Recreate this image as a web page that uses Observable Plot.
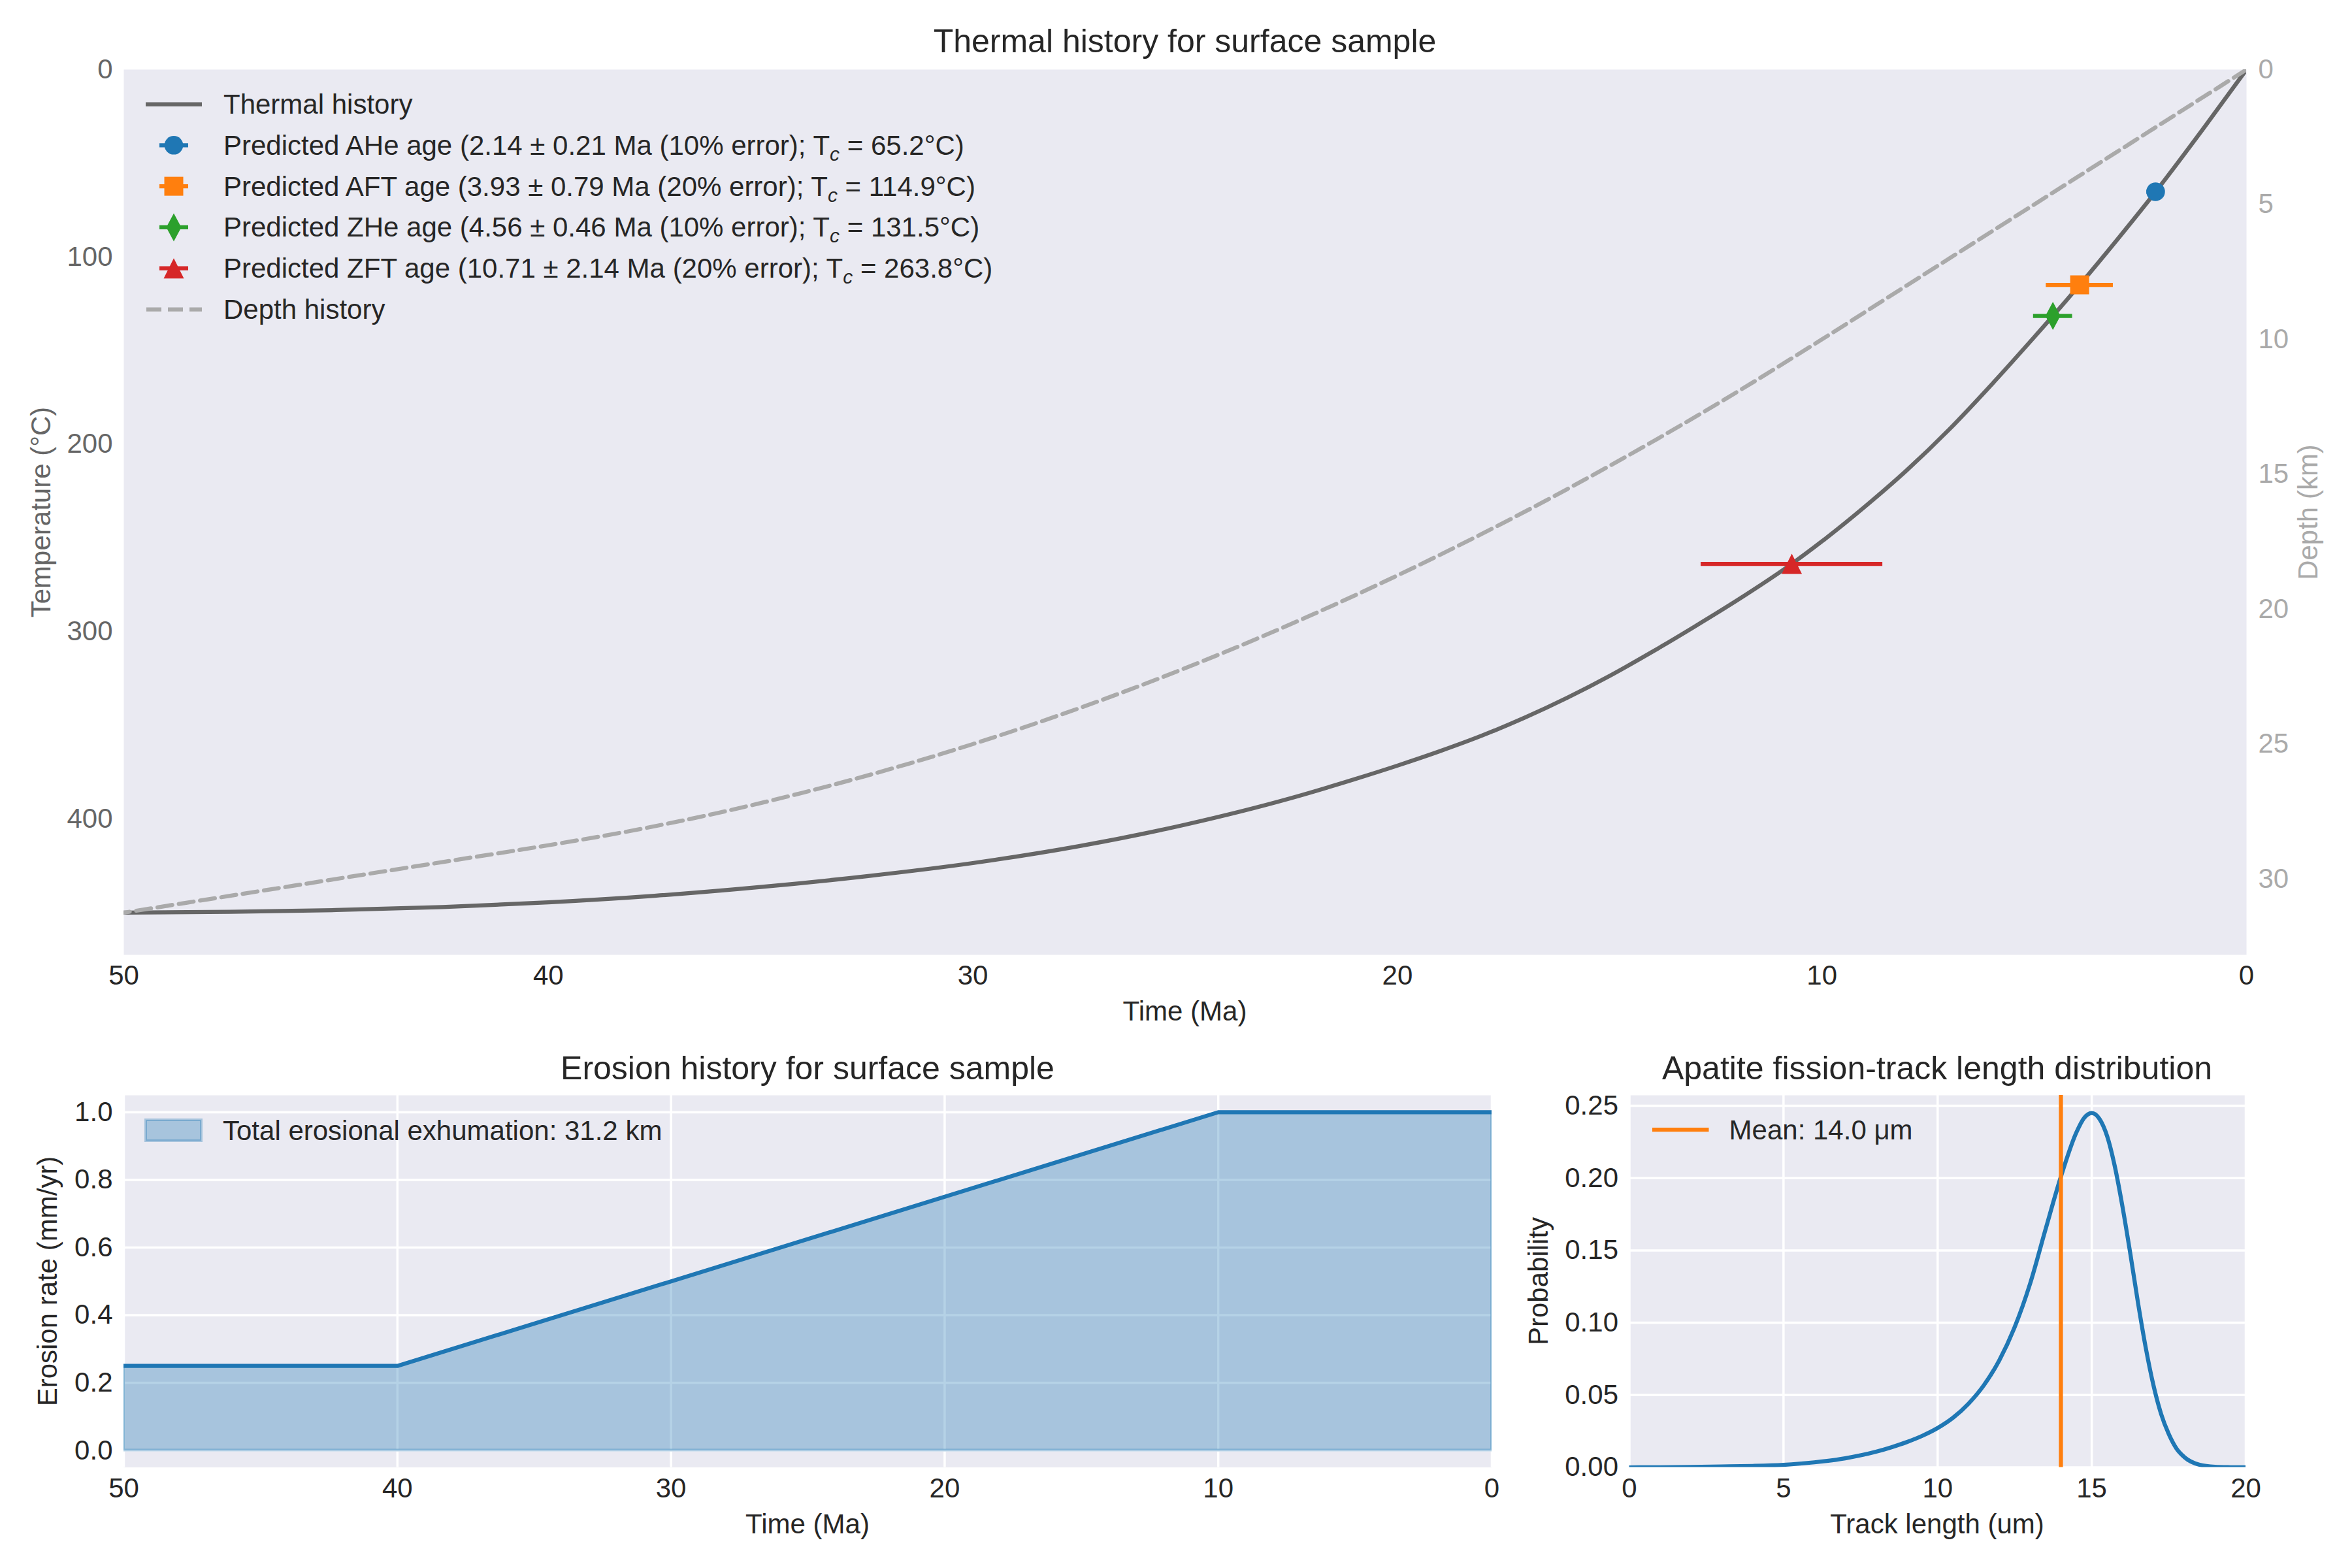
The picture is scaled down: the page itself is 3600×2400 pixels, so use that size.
<!DOCTYPE html>
<html>
<head>
<meta charset="utf-8">
<script src="https://cdn.jsdelivr.net/npm/d3@7"></script>
<script src="https://cdn.jsdelivr.net/npm/@observablehq/plot@0.6"></script>
<style>
html, body { margin: 0; padding: 0; background: #fff; }
#fig { position: relative; width: 3600px; height: 2400px; overflow: hidden; background: #fff; }
#fig > svg { position: absolute; left: 0; top: 0; }
</style>
</head>
<body>
<div id="fig"></div>
<script>
// ---------------- DATA ----------------
const thermalTime = [0, 1, 2.14, 3, 3.93, 4.56, 5, 6, 7, 8, 9, 10, 10.71, 12, 13, 14, 15, 16, 17, 18, 19, 20, 21, 22.5, 25, 27.5, 30, 32.5, 35, 37.5, 40, 42.5, 45, 47.5, 50];
const thermalTemp = [0, 31, 65.2, 89.5, 114.9, 131.5, 142.8, 168, 192, 213.8, 233.5, 251.8, 263.8, 283.3, 297.3, 310.8, 323.6, 335.3, 345.9, 355.4, 363.8, 371.5, 378.7, 388.8, 403, 414.5, 423.5, 430.5, 436.3, 441, 444.5, 447, 448.6, 449.5, 450];

const depthTime = [0, 2, 4, 6, 8, 10, 12, 14, 16, 18, 20, 22, 24, 26, 28, 30, 32, 34, 36, 38, 40, 42, 44, 46, 48, 50];
const depthKm   = [0, 2, 4, 6, 8, 10, 11.95, 13.8, 15.55, 17.2, 18.75, 20.2, 21.55, 22.8, 23.95, 25, 25.95, 26.8, 27.55, 28.2, 28.75, 29.25, 29.75, 30.25, 30.75, 31.25];

const ageSystems   = ["AHe", "AFT", "ZHe", "ZFT"];
const ageValues    = [2.14, 3.93, 4.56, 10.71];
const ageErrors    = [0.21, 0.79, 0.46, 2.14];
const ageErrorPct  = [10, 20, 10, 20];
const closureTemps = [65.2, 114.9, 131.5, 263.8];

const erosionTime = [50, 40, 10, 0];
const erosionRate = [0.25, 0.25, 1.0, 1.0];
const totalExhumation = 31.2;

const trackLength = [0, 1, 2, 3, 4, 5, 6, 7, 8, 8.5, 9, 9.5, 10, 10.5, 11, 11.5, 12, 12.5, 13, 13.5, 14, 14.5, 14.75, 15, 15.25, 15.5, 15.75, 16, 16.25, 16.5, 16.75, 17, 17.25, 17.5, 17.75, 18, 18.5, 19, 19.5, 20];
const trackProb   = [0, 0.0001, 0.0003, 0.0006, 0.001, 0.0018, 0.0035, 0.0063, 0.0108, 0.0139, 0.0175, 0.0218, 0.0272, 0.0343, 0.044, 0.0568, 0.074, 0.097, 0.127, 0.1645, 0.201, 0.2315, 0.2415, 0.245, 0.241, 0.229, 0.208, 0.180, 0.148, 0.114, 0.083, 0.057, 0.037, 0.023, 0.013, 0.0072, 0.0018, 0.0004, 0.0001, 0];
const meanTrackLength = 14.0;

const timeTicks   = [50, 40, 30, 20, 10, 0];
const tempTicks   = [0, 100, 200, 300, 400];
const depthTicks  = [0, 5, 10, 15, 20, 25, 30];
const rateTicks   = [0, 0.2, 0.4, 0.6, 0.8, 1.0];
const lengthTicks = [0, 5, 10, 15, 20];
const probTicks   = [0, 0.05, 0.10, 0.15, 0.20, 0.25];

// ---------------- STYLE ----------------
const FONT = '"Liberation Sans", Arial, Helvetica, sans-serif';
const ageColors = ["#1f77b4", "#ff7f0e", "#2ca02c", "#d62728"];
const TXT = "#262626";
const BG = "#EAEAF2";
const LW = 6.25;

const symCircle = {draw(c) { c.moveTo(14.3, 0); c.arc(0, 0, 14.3, 0, 2 * Math.PI); c.closePath(); }};
const symSquare = {draw(c) { c.rect(-14.5, -14.5, 29, 29); }};
const symThinDiamond = {draw(c) { c.moveTo(0, -21.5); c.lineTo(11.5, 0); c.lineTo(0, 21.5); c.lineTo(-11.5, 0); c.closePath(); }};
const symTriangle = {draw(c) { c.moveTo(0, -15.5); c.lineTo(15.5, 15.5); c.lineTo(-15.5, 15.5); c.closePath(); }};
const ageSymbols = [symCircle, symSquare, symThinDiamond, symTriangle];

// ---------------- TABLES ----------------
const thermal = thermalTime.map((t, i) => ({t, T: thermalTemp[i]}));
const depth = depthTime.map((t, i) => ({t, d: depthKm[i]}));
const ages = ageSystems.map((name, i) => ({name, age: ageValues[i], err: ageErrors[i], pct: ageErrorPct[i], tc: closureTemps[i]}));
const erosion = erosionTime.map((t, i) => ({t, rate: erosionRate[i]}));
const tracks = trackLength.map((x, i) => ({x, p: trackProb[i]}));

const tempMax = d3.max(thermalTemp) * 1.05;
const depthMax = d3.max(depthKm) * 1.05;
const probMax = d3.max(trackProb) * 1.05;

const common = {
  width: 3600, height: 2400,
  style: {background: "transparent", fontFamily: FONT, fontSize: "42px", overflow: "visible", maxWidth: "none"}
};
const topM = {marginTop: 106, marginBottom: 2400 - 1461, marginLeft: 189, marginRight: 3600 - 3438};
const blM = {marginTop: 1676, marginBottom: 2400 - 2245.5, marginLeft: 189, marginRight: 3600 - 2283};
const brM = {marginTop: 1676, marginBottom: 2400 - 2245.5, marginLeft: 2493.5, marginRight: 3600 - 3437};

const fig = document.getElementById("fig");

// ---------------- TOP: thermal history ----------------
const topPlot = Plot.plot({
  ...common, ...topM,
  x: {domain: [50, 0]},
  y: {domain: [0, tempMax], reverse: true},
  marks: [
    Plot.frame({fill: BG, stroke: "none"}),
    Plot.axisX(timeTicks, {tickSize: 0, tickPadding: 16, fontSize: 42, color: TXT, label: null}),
    Plot.axisY(tempTicks, {tickSize: 0, tickPadding: 17, fontSize: 42, color: "#666", label: null, tickFormat: d => String(d)}),
    Plot.line(thermal, {x: "t", y: "T", stroke: "#666", strokeWidth: LW, curve: "monotone-x", clip: true}),
    ...ages.map((d, i) => Plot.ruleY([d], {y: "tc", x1: v => v.age - v.err, x2: v => v.age + v.err, stroke: ageColors[i], strokeWidth: LW})),
    ...ages.map((d, i) => Plot.dot([d], {x: "age", y: "tc", symbol: ageSymbols[i], fill: ageColors[i], stroke: "none", r: 14}))
  ]
});
fig.appendChild(topPlot);

// depth overlay (twin axis)
const depthPlot = Plot.plot({
  ...common, ...topM,
  x: {domain: [50, 0], axis: null},
  y: {domain: [0, depthMax], reverse: true},
  marks: [
    Plot.axisY(depthTicks, {anchor: "right", tickSize: 0, tickPadding: 18, fontSize: 42, color: "#aaa", label: null}),
    Plot.line(depth, {x: "t", y: "d", stroke: "#aaa", strokeWidth: LW, strokeDasharray: "23,10", curve: "monotone-x", clip: true})
  ]
});
fig.appendChild(depthPlot);

// ---------------- BOTTOM LEFT: erosion history ----------------
const blPlot = Plot.plot({
  ...common, ...blM,
  x: {domain: [50, 0]},
  y: {domain: [-0.05, 1.05]},
  marks: [
    Plot.frame({fill: BG, stroke: "none"}),
    Plot.gridX(timeTicks, {stroke: "white", strokeOpacity: 1, strokeWidth: 3.5}),
    Plot.gridY(rateTicks, {stroke: "white", strokeOpacity: 1, strokeWidth: 3.5}),
    Plot.axisX(timeTicks, {tickSize: 0, tickPadding: 16, fontSize: 42, color: TXT, label: null}),
    Plot.axisY(rateTicks, {tickSize: 0, tickPadding: 17, fontSize: 42, color: TXT, label: null, tickFormat: d3.format(".1f")}),
    Plot.areaY(erosion, {x: "t", y: "rate", fill: "#1f77b4", fillOpacity: 0.33, stroke: "#1f77b4", strokeOpacity: 0.33, strokeWidth: 4, clip: true}),
    Plot.line(erosion, {x: "t", y: "rate", stroke: "#1f77b4", strokeWidth: LW, clip: true})
  ]
});
fig.appendChild(blPlot);

// ---------------- BOTTOM RIGHT: track length ----------------
const brPlot = Plot.plot({
  ...common, ...brM,
  x: {domain: [0, 20]},
  y: {domain: [0, probMax]},
  marks: [
    Plot.frame({fill: BG, stroke: "none"}),
    Plot.gridX(lengthTicks, {stroke: "white", strokeOpacity: 1, strokeWidth: 3.5}),
    Plot.gridY(probTicks, {stroke: "white", strokeOpacity: 1, strokeWidth: 3.5}),
    Plot.axisX(lengthTicks, {tickSize: 0, tickPadding: 16, fontSize: 42, color: TXT, label: null}),
    Plot.axisY(probTicks, {tickSize: 0, tickPadding: 17, fontSize: 42, color: TXT, label: null, tickFormat: d3.format(".2f")}),
    Plot.line(tracks, {x: "x", y: "p", stroke: "#1f77b4", strokeWidth: LW, curve: "monotone-x", clip: true}),
    Plot.ruleX([meanTrackLength], {stroke: "#ff7f0e", strokeWidth: LW})
  ]
});
fig.appendChild(brPlot);

// ---------------- ANNOTATIONS: titles, labels, legends ----------------
const ann = d3.create("svg").attr("width", 3600).attr("height", 2400)
  .attr("font-family", FONT).style("white-space", "pre");
function txt(s, x, y, {size = 42, fill = TXT, anchor = "start", rotate = 0} = {}) {
  const t = ann.append("text").attr("font-size", size).attr("fill", fill).attr("text-anchor", anchor);
  if (rotate) t.attr("transform", `translate(${x},${y}) rotate(${rotate})`);
  else t.attr("x", x).attr("y", y);
  if (s != null) t.text(s);
  return t;
}
// titles
txt("Thermal history for surface sample", 1813.5, 80, {size: 50, anchor: "middle"});
txt("Erosion history for surface sample", 1236, 1652, {size: 50, anchor: "middle"});
txt("Apatite fission-track length distribution", 2965, 1652, {size: 50, anchor: "middle"});
// axis labels
txt("Time (Ma)", 1813.5, 1562, {anchor: "middle"});
txt("Time (Ma)", 1236, 2346.5, {anchor: "middle"});
txt("Track length (um)", 2965, 2346.5, {anchor: "middle"});
txt("Temperature (°C)", 77, 784, {anchor: "middle", rotate: -90, fill: "#666"});
txt("Depth (km)", 3547, 784, {anchor: "middle", rotate: -90, fill: "#aaa"});
txt("Erosion rate (mm/yr)", 87, 1961, {anchor: "middle", rotate: -90});
txt("Probability", 2369, 1961, {anchor: "middle", rotate: -90});

// top legend
const legBase = [174, 236.8, 299.6, 362.4, 425.2, 488];
const legX = 342;
ann.append("line").attr("x1", 223).attr("x2", 309).attr("y1", legBase[0] - 14.5).attr("y2", legBase[0] - 14.5)
  .attr("stroke", "#666").attr("stroke-width", LW);
txt("Thermal history", legX, legBase[0]);
ages.forEach((d, i) => {
  const yc = legBase[i + 1] - 14.5;
  ann.append("line").attr("x1", 244).attr("x2", 288).attr("y1", yc).attr("y2", yc)
    .attr("stroke", ageColors[i]).attr("stroke-width", LW);
  const p = d3.path(); ageSymbols[i].draw(p);
  ann.append("path").attr("d", p.toString()).attr("transform", `translate(266,${yc})`).attr("fill", ageColors[i]);
  const t = txt(null, legX, legBase[i + 1]);
  t.append("tspan").text(`Predicted ${d.name} age (${d.age.toFixed(2)} ± ${d.err.toFixed(2)} Ma (${d.pct}% error); T`);
  t.append("tspan").attr("font-size", 30).attr("font-style", "italic").attr("dy", 9).text("c");
  t.append("tspan").attr("dy", -9).text(` = ${d.tc.toFixed(1)}°C)`);
});
ann.append("line").attr("x1", 224).attr("x2", 309).attr("y1", legBase[5] - 14.5).attr("y2", legBase[5] - 14.5)
  .attr("stroke", "#aaa").attr("stroke-width", LW).attr("stroke-dasharray", "23,10");
txt("Depth history", legX, legBase[5]);

// bottom-left legend
ann.append("rect").attr("x", 223).attr("y", 1714).attr("width", 85).attr("height", 32)
  .attr("fill", "#1f77b4").attr("fill-opacity", 0.33).attr("stroke", "#1f77b4").attr("stroke-opacity", 0.33).attr("stroke-width", 4);
txt(`Total erosional exhumation: ${totalExhumation.toFixed(1)} km`, 341, 1745);

// bottom-right legend
ann.append("line").attr("x1", 2529).attr("x2", 2615.5).attr("y1", 1729).attr("y2", 1729)
  .attr("stroke", "#ff7f0e").attr("stroke-width", LW);
txt(`Mean: ${meanTrackLength.toFixed(1)} μm`, 2646.6, 1744);

fig.appendChild(ann.node());
</script>
</body>
</html>
